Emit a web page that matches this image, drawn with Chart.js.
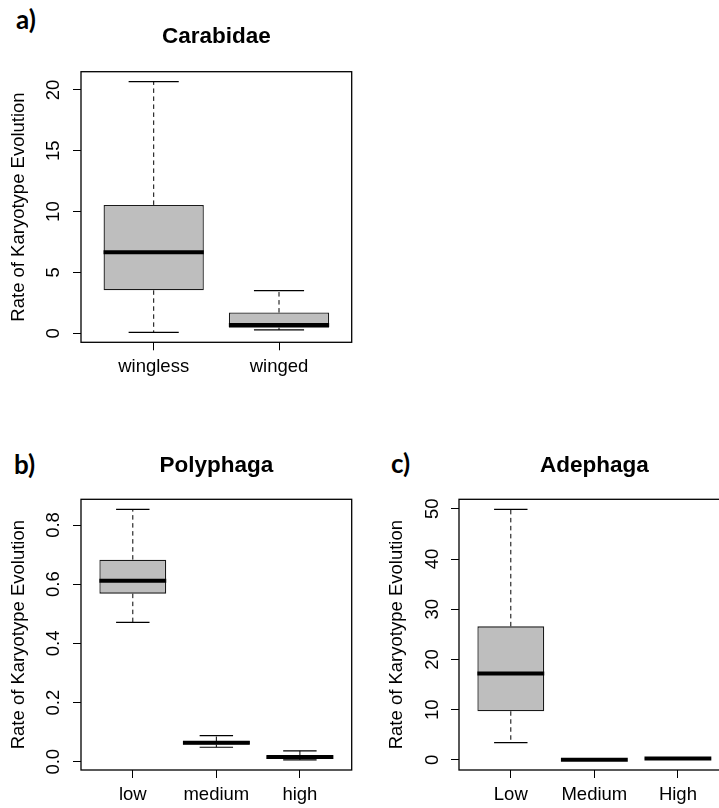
<!DOCTYPE html>
<html>
<head>
<meta charset="utf-8">
<script src="https://cdn.jsdelivr.net/npm/chart.js@4.4.1/dist/chart.umd.min.js"></script>
<style>
html, body { margin: 0; padding: 0; background: #fff; overflow: hidden; width: 719px; height: 808px; }
canvas { position: absolute; }
.tag { position: absolute; font-family: Lato, sans-serif; font-weight: bold; font-size: 26px; line-height: 1; color: #000; }
</style>
</head>
<body>
<div class="tag" style="left:16px;top:6px">a)</div>
<div class="tag" style="left:14px;top:451px">b)</div>
<div class="tag" style="left:391px;top:450px">c)</div>
<canvas id="chartA" width="360" height="405" style="left:0;top:0"></canvas>
<canvas id="chartB" width="360" height="410" style="left:0;top:410px"></canvas>
<canvas id="chartC" width="370" height="410" style="left:360px;top:410px"></canvas>
<script>
// a) Carabidae
var carabCats = ['wingless', 'winged'];
var carabMin = [0.08, 0.27];
var carabQ1 = [3.53, 0.46];
var carabMed = [6.66, 0.68];
var carabQ3 = [10.55, 1.70];
var carabMax = [20.68, 3.50];
var carabTicks = [0, 5, 10, 15, 20];

// b) Polyphaga
var polyCats = ['low', 'medium', 'high'];
var polyMin = [0.471, 0.049, 0.006];
var polyQ1 = [0.568, 0.058, 0.009];
var polyMed = [0.612, 0.064, 0.016];
var polyQ3 = [0.683, 0.070, 0.022];
var polyMax = [0.853, 0.088, 0.037];
var polyTicks = [0, 0.2, 0.4, 0.6, 0.8];

// c) Adephaga
var adephCats = ['Low', 'Medium', 'High'];
var adephMin = [3.45, 0.00, 0.22];
var adephQ1 = [9.7, 0.02, 0.26];
var adephMed = [17.2, 0.04, 0.30];
var adephQ3 = [26.6, 0.06, 0.34];
var adephMax = [49.9, 0.08, 0.38];
var adephTicks = [0, 10, 20, 30, 40, 50];

Chart.defaults.font.family = "'Liberation Sans', Arial, sans-serif";
Chart.defaults.color = '#000';

// whiskers, caps, medians and the frame, placed with the chart's own scales
function whiskers(mins, q1s, meds, q3s, maxs) {
    return {
        id: 'whiskers',
        afterDatasetsDraw: function(chart) {
            var ctx = chart.ctx, a = chart.chartArea;
            var x = chart.scales.x, y = chart.scales.y;
            var bars = chart.getDatasetMeta(0).data;
            ctx.save();
            ctx.strokeStyle = '#000';
            for (var i = 0; i < meds.length; i++) {
                var cx = x.getPixelForValue(i + 1);
                var hw = bars[i].width / 2;
                ctx.lineWidth = 1;
                ctx.setLineDash([4.5, 3.5]);
                ctx.beginPath();
                ctx.moveTo(cx, y.getPixelForValue(q3s[i]));
                ctx.lineTo(cx, y.getPixelForValue(maxs[i]));
                ctx.moveTo(cx, y.getPixelForValue(q1s[i]));
                ctx.lineTo(cx, y.getPixelForValue(mins[i]));
                ctx.stroke();
                ctx.setLineDash([]);
                ctx.lineWidth = 1.2;
                ctx.beginPath();
                [maxs[i], mins[i]].forEach(function(v) {
                    var py = y.getPixelForValue(v);
                    ctx.moveTo(cx - hw / 2, py);
                    ctx.lineTo(cx + hw / 2, py);
                });
                ctx.stroke();
                ctx.lineWidth = 4;
                ctx.beginPath();
                var my = y.getPixelForValue(meds[i]);
                ctx.moveTo(cx - hw, my);
                ctx.lineTo(cx + hw, my);
                ctx.stroke();
            }
            ctx.lineWidth = 1.3;
            ctx.strokeRect(a.left, a.top, a.right - a.left, a.bottom - a.top);
            ctx.restore();
        }
    };
}

function boxChart(id, title, cats, mins, q1s, meds, q3s, maxs, ticks, fmt, lay) {
    var n = cats.length;
    var lo = Math.min.apply(null, mins), hi = Math.max.apply(null, maxs);
    var pad = (hi - lo) * 0.04;
    var tickGrid = { drawOnChartArea: false, drawTicks: true, tickLength: 8, offset: false, color: '#000', tickColor: '#000', lineWidth: 1 };
    return new Chart(document.getElementById(id), {
        type: 'bar',
        data: {
            datasets: [{
                data: cats.map(function(c, i) { return { x: i + 1, y: [q1s[i], q3s[i]] }; }),
                backgroundColor: '#bebebe',
                borderColor: '#1a1a1a',
                borderWidth: 1.3,
                borderSkipped: false,
                barPercentage: 0.8,
                categoryPercentage: 1
            }]
        },
        options: {
            responsive: false,
            animation: false,
            layout: { padding: { left: 0, top: 0, right: lay.right, bottom: lay.bottom } },
            plugins: {
                legend: { display: false },
                tooltip: { enabled: false },
                title: {
                    display: true, text: title, fullSize: false, color: '#000',
                    font: { size: 22.5, weight: 'bold' },
                    padding: { top: lay.titleTop, bottom: lay.titleBottom }
                }
            },
            scales: {
                x: {
                    type: 'linear',
                    offset: false,
                    min: 0.5 - 0.04 * n,
                    max: n + 0.5 + 0.04 * n,
                    afterBuildTicks: function(s) { s.ticks = cats.map(function(c, i) { return { value: i + 1 }; }); },
                    afterFit: function(s) { s.height = 45; },
                    ticks: {
                        callback: function(v) { return cats[v - 1]; },
                        autoSkip: false, maxRotation: 0, padding: 5.5,
                        color: '#000', font: { size: 18.5 }
                    },
                    grid: tickGrid,
                    border: { display: false }
                },
                y: {
                    min: lo - pad,
                    max: hi + pad,
                    afterBuildTicks: function(s) { s.ticks = ticks.map(function(v) { return { value: v }; }); },
                    afterFit: function(s) { s.width = lay.yWidth; },
                    ticks: {
                        callback: fmt,
                        autoSkip: false, minRotation: 90, maxRotation: 90, crossAlign: 'center',
                        padding: lay.yPad, color: '#000', font: { size: 18.5 }
                    },
                    grid: tickGrid,
                    border: { display: false },
                    title: {
                        display: true, text: 'Rate of Karyotype Evolution', color: '#000',
                        font: { size: 18.5 }, padding: { top: lay.yTitle, bottom: 0 }
                    }
                }
            }
        },
        plugins: [whiskers(mins, q1s, meds, q3s, maxs)]
    });
}

var intFmt = function(v) { return String(v); };
var oneDec = function(v) { return v.toFixed(1); };

boxChart('chartA', 'Carabidae', carabCats, carabMin, carabQ1, carabMed, carabQ3, carabMax, carabTicks, intFmt,
    { right: 8.3, bottom: 17.7, titleTop: 23.5, titleBottom: 21.2, yWidth: 81, yPad: 9, yTitle: 8.2 });
boxChart('chartB', 'Polyphaga', polyCats, polyMin, polyQ1, polyMed, polyQ3, polyMax, polyTicks, oneDec,
    { right: 8.3, bottom: 5, titleTop: 42.7, titleBottom: 19.6, yWidth: 81, yPad: 6.4, yTitle: 8.2 });
boxChart('chartC', 'Adephaga', adephCats, adephMin, adephQ1, adephMed, adephQ3, adephMax, adephTicks, intFmt,
    { right: 0.3, bottom: 5, titleTop: 42.2, titleBottom: 20.1, yWidth: 99, yPad: 8.2, yTitle: 25.6 });
</script>
</body>
</html>
